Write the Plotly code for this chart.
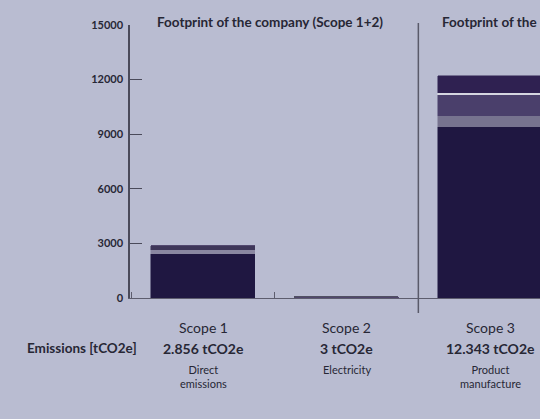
import plotly.graph_objects as go

# ---- data ----
categories = ["Scope 1", "Scope 2", "Scope 3"]
totals_text = ["2.856 tCO2e", "3 tCO2e", "12.343 tCO2e"]
descriptions = ["Direct<br>emissions", "Electricity", "Product<br>manufacture"]
layer1 = [2420, 0, 9400]
layer2 = [217, 0, 600]
layer3 = [219, 3, 1150]
layer4 = [0, 0, 110]
layer5 = [0, 0, 940]
y_ticks = [0, 3000, 6000, 9000, 12000, 15000]
y_tick_labels = ["0", "3000", "6000", "9000", "12000", "15000"]
section_titles = ["Footprint of the company (Scope 1+2)", "Footprint of the product (Scope 3)"]
row_label = "Emissions [tCO2e]"

BG = "#b9bcd1"
TXT = "#272735"
FONT = "Lato, sans-serif"

layers = [
    (layer1, ["#1f1741", "#1f1741", "#1f1741"]),
    (layer2, ["#8a87a1", "#8a87a1", "#77738f"]),
    (layer3, ["#3e3659", "#505062", "#4a3f6b"]),
    (layer4, ["#d5d6e0", "#d5d6e0", "#d5d6e0"]),
    (layer5, ["#2f2151", "#2f2151", "#2f2151"]),
]

fig = go.Figure()
for vals, cols in layers:
    fig.add_trace(go.Bar(
        x=categories, y=vals, width=0.725,
        marker=dict(color=cols, line=dict(color=cols, width=[0.5, 1.8, 0.5] if vals is layer3 else 0.5)),
        showlegend=False, hoverinfo="skip",
    ))

fig.update_layout(
    width=540, height=419,
    margin=dict(l=130, r=0, t=25, b=121),
    paper_bgcolor=BG, plot_bgcolor=BG,
    barmode="stack", bargap=0,
    font=dict(family=FONT, color=TXT),
)
fig.update_xaxes(
    type="category", range=[-0.51, 2.348],
    showline=True, linecolor="#5d5d6e", linewidth=1,
    ticks="inside", tickson="boundaries", ticklen=6, tickcolor="#5d5d6e",
    showticklabels=False, showgrid=False, zeroline=False,
)
fig.update_yaxes(
    range=[0, 15000], tickvals=y_ticks, ticktext=y_tick_labels,
    showline=True, linecolor="#4a4a5a", linewidth=1.5,
    ticks="inside", ticklen=12, tickcolor="#4a4a5a", tickwidth=1.2,
    tickfont=dict(size=11, family=FONT, color=TXT, weight="bold"),
    ticklabelstandoff=3,
    showgrid=False, zeroline=False,
)

def py(p):
    return (298 - p) / 273

# divider
fig.add_shape(type="line", xref="x", yref="paper", x0=1.5, x1=1.5,
              y0=py(313), y1=py(23), line=dict(color="#5a5a6a", width=1.5))

# section titles
fig.add_annotation(xref="paper", yref="paper", x=(155 - 130) / 410, y=py(22),
                   xanchor="left", yanchor="middle", showarrow=False,
                   text=section_titles[0], font=dict(size=13.5, weight="bold", color=TXT))
fig.add_annotation(xref="paper", yref="paper", x=(440 - 130) / 410, y=py(22),
                   xanchor="left", yanchor="middle", showarrow=False,
                   text=section_titles[1], font=dict(size=13.5, weight="bold", color=TXT))

# row label
fig.add_annotation(xref="paper", yref="paper", x=(25 - 130) / 410, y=py(348),
                   xanchor="left", yanchor="middle", showarrow=False,
                   text=row_label, font=dict(size=13.5, weight="bold", color=TXT))

for i, c in enumerate(categories):
    fig.add_annotation(xref="x", yref="paper", x=c, y=py(327), yanchor="middle",
                       showarrow=False, text=c, font=dict(size=14, color=TXT))
    fig.add_annotation(xref="x", yref="paper", x=c, y=py(348), yanchor="middle",
                       showarrow=False, text=totals_text[i],
                       font=dict(size=14, weight="bold", color=TXT))
    fig.add_annotation(xref="x", yref="paper", x=c, y=py(361), yanchor="top",
                       showarrow=False, text=descriptions[i],
                       font=dict(size=11, color=TXT))

fig.write_html("out.html", config={"displayModeBar": False},
               post_script="document.body.style.margin='0';document.body.style.overflow='hidden';")
